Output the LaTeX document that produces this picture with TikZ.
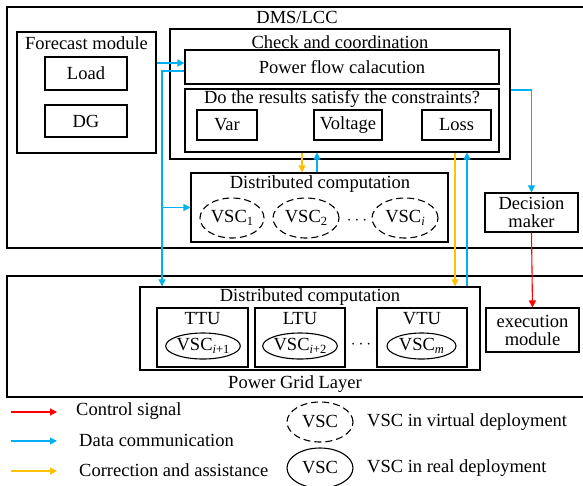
\documentclass[tikz,border=0pt]{standalone}
\usepackage{fontspec}
\setmainfont{Liberation Serif}
\newfontfamily\tnr{Liberation Serif}
\usetikzlibrary{arrows.meta,shapes.geometric}
\newcommand\sbx[1]{\raisebox{-0.35ex}{\fontsize{12.5}{12.5}\selectfont #1}}
\definecolor{ctrlred}{RGB}{255,0,0}
\definecolor{datablue}{RGB}{0,176,240}
\definecolor{corrorange}{RGB}{255,192,0}
\tikzset{
  box/.style={draw=black, line width=1.1pt, inner sep=0pt, rectangle},
  txt/.style={inner sep=0pt, font=\tnr\fontsize{18.5}{20}\selectfont},
  vscv/.style={draw=black, line width=1.1pt, dash pattern=on 7pt off 4pt, ellipse, inner sep=0pt, font=\tnr\fontsize{18.5}{20}\selectfont},
  vscr/.style={draw=black, line width=1.1pt, ellipse, inner sep=0pt, font=\tnr\fontsize{18.5}{20}\selectfont},
  tip/.style={-{Triangle[length=7pt,width=7pt]}},
  ctrl/.style={tip, draw=ctrlred, line width=1.1pt},
  data/.style={tip, draw=datablue, line width=1.1pt},
  corr/.style={tip, draw=corrorange, line width=1.1pt},
}
\begin{document}
\begin{tikzpicture}[x=1pt,y=-1pt]
\useasboundingbox (0,0) rectangle (583,485);
\fill[white] (0,0) rectangle (583,485);

% DMS/LCC layer
\draw[line width=1.1pt] (600,7) -- (7,7) -- (7,248) -- (600,248);
\node[txt] (dmslbl) at (297,17) {DMS/LCC};

% forecast module
\node[box, minimum width=139pt, minimum height=121pt] (forecast) at (86.5,92.5) {};
\node[txt] (forelbl) at (86.5,43) {Forecast module};
\node[box, txt, minimum width=82pt, minimum height=33pt] (load) at (86,73.5) {Load};
\node[box, txt, minimum width=82pt, minimum height=32pt] (dg) at (86,121) {DG};

% check and coordination
\node[box, minimum width=340pt, minimum height=130pt] (check) at (340,94) {};
\node[txt] (checklbl) at (340,42) {Check and coordination};
\node[box, txt, minimum width=314pt, minimum height=34pt] (pf) at (342,67) {Power flow calacution};
\node[box, minimum width=314pt, minimum height=63pt] (cons) at (342,120.5) {};
\node[txt] (conslbl) at (342,99) {Do the results satisfy the constraints?};
\node[box, txt, minimum width=60pt, minimum height=30pt] (var) at (227,125) {Var};
\node[box, txt, minimum width=68pt, minimum height=30pt] (volt) at (348,125) {Voltage};
\node[box, txt, minimum width=69pt, minimum height=30pt] (loss) at (456.5,125) {Loss};

% upper distributed computation
\node[box, minimum width=257pt, minimum height=69pt] (dca) at (319.5,207.5) {};
\node[txt] (dcalbl) at (320,184) {Distributed computation};
\node[vscv, minimum width=64pt, minimum height=40pt] (va) at (232,218) {VSC\sbx{1}};
\node[vscv, minimum width=66pt, minimum height=40pt] (vb) at (306,218) {VSC\sbx{2}};
\node[txt] (vdots) at (357,221) {$\cdots$};
\node[vscv, minimum width=66pt, minimum height=40pt] (vc) at (405,218) {VSC\sbx{\itshape i}};

% decision maker
\node[box, txt, minimum width=93pt, minimum height=39pt, align=center] (dec) at (531.5,212.5) {Decision\\[-2pt]maker};

% power grid layer
\draw[line width=1.1pt] (600,276) -- (7,276) -- (7,397) -- (600,397);
\node[txt] (gridlbl) at (295,384) {Power Grid Layer};
\node[box, minimum width=340pt, minimum height=83pt, line width=1.4pt] (dcb) at (310,328.5) {};
\node[txt] (dcblbl) at (310,297) {Distributed computation};
\node[box, minimum width=91pt, minimum height=59pt] (ttu) at (202.5,337.5) {};
\node[box, minimum width=90pt, minimum height=59pt] (ltu) at (300,337.5) {};
\node[box, minimum width=90pt, minimum height=59pt] (vtu) at (422,337.5) {};
\node[txt] (ttulbl) at (202.5,319) {TTU};
\node[txt] (ltulbl) at (300,319) {LTU};
\node[txt] (vtulbl) at (422,319) {VTU};
\node[vscr, minimum width=72pt, minimum height=26pt] (ra) at (203,346) {VSC\sbx{\itshape i\upshape+1}};
\node[vscr, minimum width=74pt, minimum height=26pt] (rb) at (300,346) {VSC\sbx{\itshape i\upshape+2}};
\node[txt] (rdots) at (361,345) {$\cdots$};
\node[vscr, minimum width=69pt, minimum height=26pt] (rc) at (421.5,346) {VSC\sbx{\itshape m}};
\node[box, txt, minimum width=93pt, minimum height=44pt, align=center] (exe) at (532.5,330) {execution\\[-2pt]module};

% connectors
\coordinate (bus) at (162,71);
\draw[data] ([yshift=4pt]pf.west -| forecast.east) -- ([yshift=4pt]pf.west);
\draw[data] ([yshift=-4pt]pf.west) -- (bus) -- (bus |- dcb.north);
\draw[data] (bus |- dca.west) -- (dca.west);
\coordinate (oa) at (302,0);
\coordinate (ba) at (317,0);
\coordinate (ob) at (455,0);
\coordinate (bb) at (467,0);
\draw[corr] (cons.south -| oa) -- (dca.north -| oa);
\draw[data] (dca.north -| ba) -- (cons.south -| ba);
\draw[corr] (cons.south -| ob) -- (dcb.north -| ob);
\draw[data] (dcb.north -| bb) -- (cons.south -| bb);
\draw[data] ([yshift=4pt]check.east) -| (dec.north);
\draw[ctrl] (dec.south) -- (exe.north);

% legend
\coordinate (la0) at (11,412); \coordinate (la1) at (57,412);
\coordinate (lb0) at (11,441); \coordinate (lb1) at (57,441);
\coordinate (lc0) at (11,471); \coordinate (lc1) at (57,471);
\draw[ctrl] (la0) -- (la1);
\draw[data] (lb0) -- (lb1);
\draw[corr] (lc0) -- (lc1);
\node[txt, anchor=west] (lgctrl) at (76,411) {Control signal};
\node[txt, anchor=west] (lgdata) at (79,440) {Data communication};
\node[txt, anchor=west] (lgcorr) at (79,470) {Correction and assistance};
\node[vscv, minimum width=66pt, minimum height=40pt] (lgv) at (320,422) {VSC};
\node[vscr, minimum width=66pt, minimum height=40pt] (lgr) at (320,468) {VSC};
\node[txt, anchor=west] (lgvt) at (367,422) {VSC in virtual deployment};
\node[txt, anchor=west] (lgrt) at (367,468) {VSC in real deployment};
\end{tikzpicture}
\end{document}
